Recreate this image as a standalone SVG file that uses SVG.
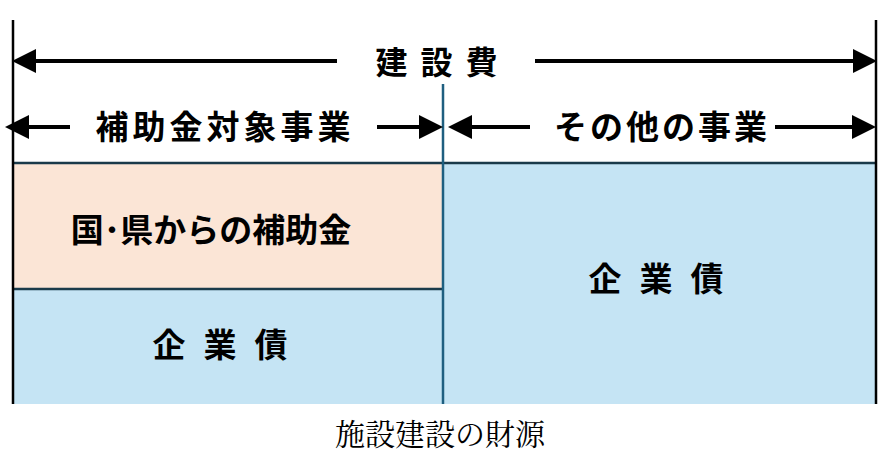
<svg xmlns="http://www.w3.org/2000/svg" width="892" height="462" viewBox="0 0 892 462">
<style>
.t{font-family:"Noto Sans CJK JP",sans-serif;font-weight:bold;fill:#000;text-anchor:middle}
.a{stroke:#000;stroke-width:4;fill:none}
.cap{font-family:"Noto Serif CJK JP","Liberation Serif",serif;font-size:30px;text-anchor:middle}
</style>
<defs><marker id="h" markerWidth="6" markerHeight="6" refX="5" refY="3" orient="auto" markerUnits="strokeWidth"><path d="M0,0 L6,3 L0,6 Z" fill="#000"/></marker></defs>
<g id="boxes">
<rect x="13" y="163" width="430" height="126" fill="#FBE5D6"/>
<rect x="13" y="289" width="430" height="115" fill="#C5E4F4"/>
<rect x="443" y="163" width="433" height="241" fill="#C5E4F4"/>
<path d="M13,163 H876 M13,289 H443" stroke="#1a3a4a" stroke-width="2.5" fill="none"/>
<path d="M443,84 V404" stroke="#1f5f80" stroke-width="2.5"/>
<path d="M13,20 V404 M876,20 V404" stroke="#000" stroke-width="2.5"/>
</g>
<g id="connectors">
<line class="a" x1="337" y1="61" x2="16" y2="61" marker-end="url(#h)"/>
<line class="a" x1="535" y1="61" x2="873" y2="61" marker-end="url(#h)"/>
<line class="a" x1="70" y1="127" x2="9" y2="127" marker-end="url(#h)"/>
<line class="a" x1="377" y1="127" x2="439" y2="127" marker-end="url(#h)"/>
<line class="a" x1="530" y1="127" x2="452" y2="127" marker-end="url(#h)"/>
<line class="a" x1="775" y1="127" x2="872" y2="127" marker-end="url(#h)"/>
</g>
<g id="labels">
<text class="t" x="443" y="74" font-size="32" letter-spacing="13">建設費</text>
<text class="t" x="225" y="139" font-size="33" letter-spacing="4">補助金対象事業</text>
<text class="t" x="662" y="139" font-size="33" letter-spacing="3">その他の事業</text>
</g>
<g id="n1"><text class="t" x="211" y="242" font-size="33">国･県からの補助金</text></g>
<g id="n2"><text class="t" x="229" y="357" font-size="33" letter-spacing="18">企業債</text></g>
<g id="n3"><text class="t" x="665" y="291" font-size="33" letter-spacing="18">企業債</text></g>
<text class="cap" x="440" y="445">施設建設の財源</text>
</svg>
